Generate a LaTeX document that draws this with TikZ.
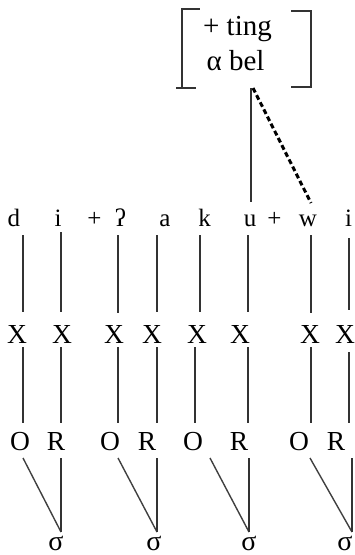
\documentclass[tikz,border=0pt]{standalone}
\usepackage{fontspec}
\setmainfont{Liberation Serif}
\tikzset{
  seg/.style={anchor=base, inner sep=0pt, font=\fontsize{25}{30}\selectfont},
  skel/.style={anchor=base, inner sep=0pt, font=\fontsize{27.5}{33}\selectfont},
  syl/.style={anchor=base, inner sep=0pt, font=\fontsize{28}{34}\selectfont},
  feat/.style={anchor=base, inner sep=0pt, font=\fontsize{29}{35}\selectfont},
  assoc/.style={line width=1.5pt, draw=black!80},
  diag/.style={line width=1.4pt, draw=black!75},
  delink/.style={line width=3pt, draw=black, dash pattern=on 5pt off 3pt},
  brk/.style={line width=1.5pt, draw=black!80, line cap=rect},
}
\begin{document}
\begin{tikzpicture}[x=1pt,y=-1pt]
\useasboundingbox (0,0) rectangle (355,555);

% feature bracket
\node[feat] (f1) at (237.5,35) {+ ting};
\node[feat] (f2) at (235.5,70) {α bel};
\draw[brk] (199,9) -- (182,9) -- (182,88);
\draw[brk] (177,88) -- (195,88);
\draw[brk] (292,11) -- (311,11) -- (311,87) -- (292,87);
\coordinate (ftop) at (251,88);
\coordinate (ftopd) at (253,88);

% segments
\node[seg] (s1) at (14,226) {d};
\node[seg] (s2) at (58,226) {i};
\node[seg] (p1) at (94.5,226) {+};
\node[seg] (s3) at (120.5,226) {ʔ};
\node[seg] (s4) at (165,226) {a};
\node[seg] (s5) at (204.5,226) {k};
\node[seg] (s6) at (250,226) {u};
\node[seg] (p2) at (274.5,226) {+};
\node[seg] (s7) at (308,226) {w};
\node[seg] (s8) at (348.5,226) {i};

% feature links
\coordinate (uend) at (251,202);
\coordinate (wend) at (311,203);
\draw[assoc] (ftop) -- (uend);
\draw[delink] (ftopd) -- (wend);

% skeleton
\foreach \n/\x in {1/17,2/62,3/114,4/152,5/197,6/240,7/310,8/345}
  \node[skel] (x\n) at (\x,343) {X};

% segment -> X lines
\foreach \n/\x/\a/\b in {1/23/235/312,2/61/232/312,3/118/235/313,4/157/235/312,5/200/235/312,6/248/235/312,7/311/235/313,8/349/238/310}{
  \coordinate (sa\n) at (\x,\a);
  \coordinate (sb\n) at (\x,\b);
  \draw[assoc] (sa\n) -- (sb\n);
}

% onsets / rhymes
\node[skel] (o1) at (20,450) {O};
\node[skel] (r1) at (56,450) {R};
\node[skel] (o2) at (110,450) {O};
\node[skel] (r2) at (147,450) {R};
\node[skel] (o3) at (193,450) {O};
\node[skel] (r3) at (239,450) {R};
\node[skel] (o4) at (299,450) {O};
\node[skel] (r4) at (336,450) {R};

% X -> O/R lines
\foreach \n/\x/\a in {1/23/347,2/61/347,3/118/347,4/157/347,5/195/347,6/248/347,7/311/347,8/349/352}{
  \coordinate (xa\n) at (\x,\a);
  \coordinate (xb\n) at (\x,423);
  \draw[assoc] (xa\n) -- (xb\n);
}

% syllables
\node[syl] (sg1) at (56,550) {σ};
\node[syl] (sg2) at (154,550) {σ};
\node[syl] (sg3) at (249,550) {σ};
\node[syl] (sg4) at (345,550) {σ};

\foreach \n/\d/\v in {1/23/61,2/118/157,3/210/249,4/310/352}{
  \coordinate (od\n) at (\d,458);
  \coordinate (rv\n) at (\v,458);
  \coordinate (sv\n) at (\v,532);
  \draw[diag] (od\n) -- (sv\n);
  \draw[assoc] (rv\n) -- (sv\n);
}
\end{tikzpicture}
\end{document}
